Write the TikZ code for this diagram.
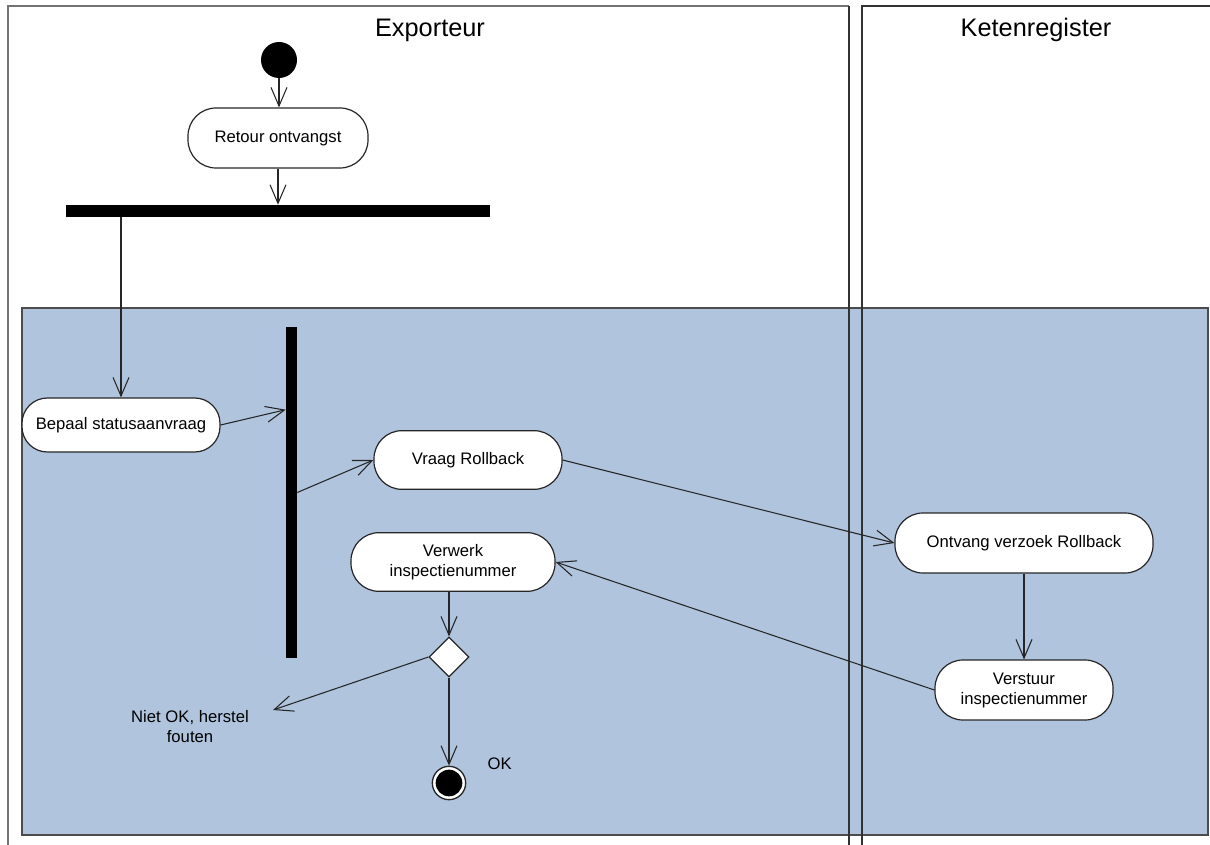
\documentclass[tikz,border=0pt]{standalone}
\usepackage{fontspec}
\setmainfont{Liberation Sans}
\usetikzlibrary{arrows.meta,shapes.geometric,calc}
\definecolor{swim}{RGB}{176,196,222}
\begin{document}
\begin{tikzpicture}[x=0.75pt,y=-0.75pt,
  act/.style={draw=black!85, line width=0.9pt, fill=white, rounded corners=21pt,
    minimum height=45pt, align=center, font=\fontsize{12.5}{15}\selectfont, inner sep=2pt},
  arr/.style={draw=black!85, line width=0.8pt,
    -{Straight Barb[length=14pt,width=12pt,line width=0.8pt]}},
  barnode/.style={fill=black, inner sep=0pt},
  lane/.style={draw=black!80, line width=0.8pt},
  lbl/.style={font=\fontsize{12.5}{15}\selectfont, align=center, inner sep=1pt},
  lanetitle/.style={font=\fontsize{19}{22}\selectfont}]
\useasboundingbox (0,0) rectangle (1210,845);
\fill[white] (0,0) rectangle (1210,845);
% shaded region
\filldraw[fill=swim, draw=black!70, line width=1pt] (22,308) rectangle (1208,835);
% swimlanes
\draw[draw=black!55, line width=1.8pt] (8,850) -- (8,6) -- (849,6);
\draw[lane] (849,6) -- (849,850);
\draw[lane] (862,850) -- (862,6) -- (1215,6);
\node[lanetitle] (t1) at (430,30) {Exporteur};
\node[lanetitle] (t2) at (1036,30) {Ketenregister};
% nodes
\node[circle, fill=black, minimum size=27pt, inner sep=0pt] (start) at (279,60) {};
\node[act, minimum width=135pt] (retour) at (278,138) {Retour ontvangst};
\node[barnode, minimum width=318pt, minimum height=9pt] (fork) at (278,211) {};
\node[act, minimum width=148.5pt, minimum height=40.5pt, rounded corners=19pt] (bepaal) at (121,425) {Bepaal statusaanvraag};
\node[barnode, minimum width=8.25pt, minimum height=248pt] (fork2) at (291.5,492.5) {};
\node[act, minimum width=141pt, minimum height=44pt] (vraag) at (468,460) {Vraag Rollback};
\node[act, minimum width=193.5pt] (ontvang) at (1024,543) {Ontvang verzoek Rollback};
\node[act, minimum width=133.5pt] (verstuur) at (1024,690) {Verstuur\\inspectienummer};
\node[act, minimum width=153pt, minimum height=44pt] (verwerk) at (453,562) {Verwerk\\inspectienummer};
\node[diamond, aspect=1, draw=black!85, fill=white, line width=0.9pt, minimum width=30pt, minimum height=30pt, inner sep=0pt] (dec) at (449,657) {};
\node[circle, draw=black!85, fill=white, line width=1pt, minimum size=25pt, inner sep=0pt] (final) at (449,783) {};
\node[circle, fill=black, minimum size=20pt, inner sep=0pt] (finalin) at (final) {};
\node[lbl] (niet) at (190,727) {Niet OK, herstel\\fouten};
\node[lbl, anchor=west] (ok) at (486,764) {OK};
\coordinate (nok) at (273,710);
% connectors
\draw[arr] (start.south) -- (start.south |- retour.north);
\draw[arr] (retour.south) -- (retour.south |- fork.north);
\draw[arr] (fork.south -| bepaal.north) -- (bepaal.north);
\draw[arr] (bepaal.east) -- ($(fork2.north west)!0.25!(fork2.south west)$);
\draw[arr] ($(fork2.north east)!0.5!(fork2.south east)$) -- (vraag.west);
\draw[arr] (vraag.east) -- (ontvang.west);
\draw[arr] (ontvang.south) -- (verstuur.north);
\draw[arr] (verstuur.west) -- (verwerk.east);
\draw[arr] (verwerk.south -| dec.north) -- (dec.north);
\draw[arr] (dec.west) -- (nok);
\draw[arr] (dec.south) -- (final.north);
\end{tikzpicture}
\end{document}
